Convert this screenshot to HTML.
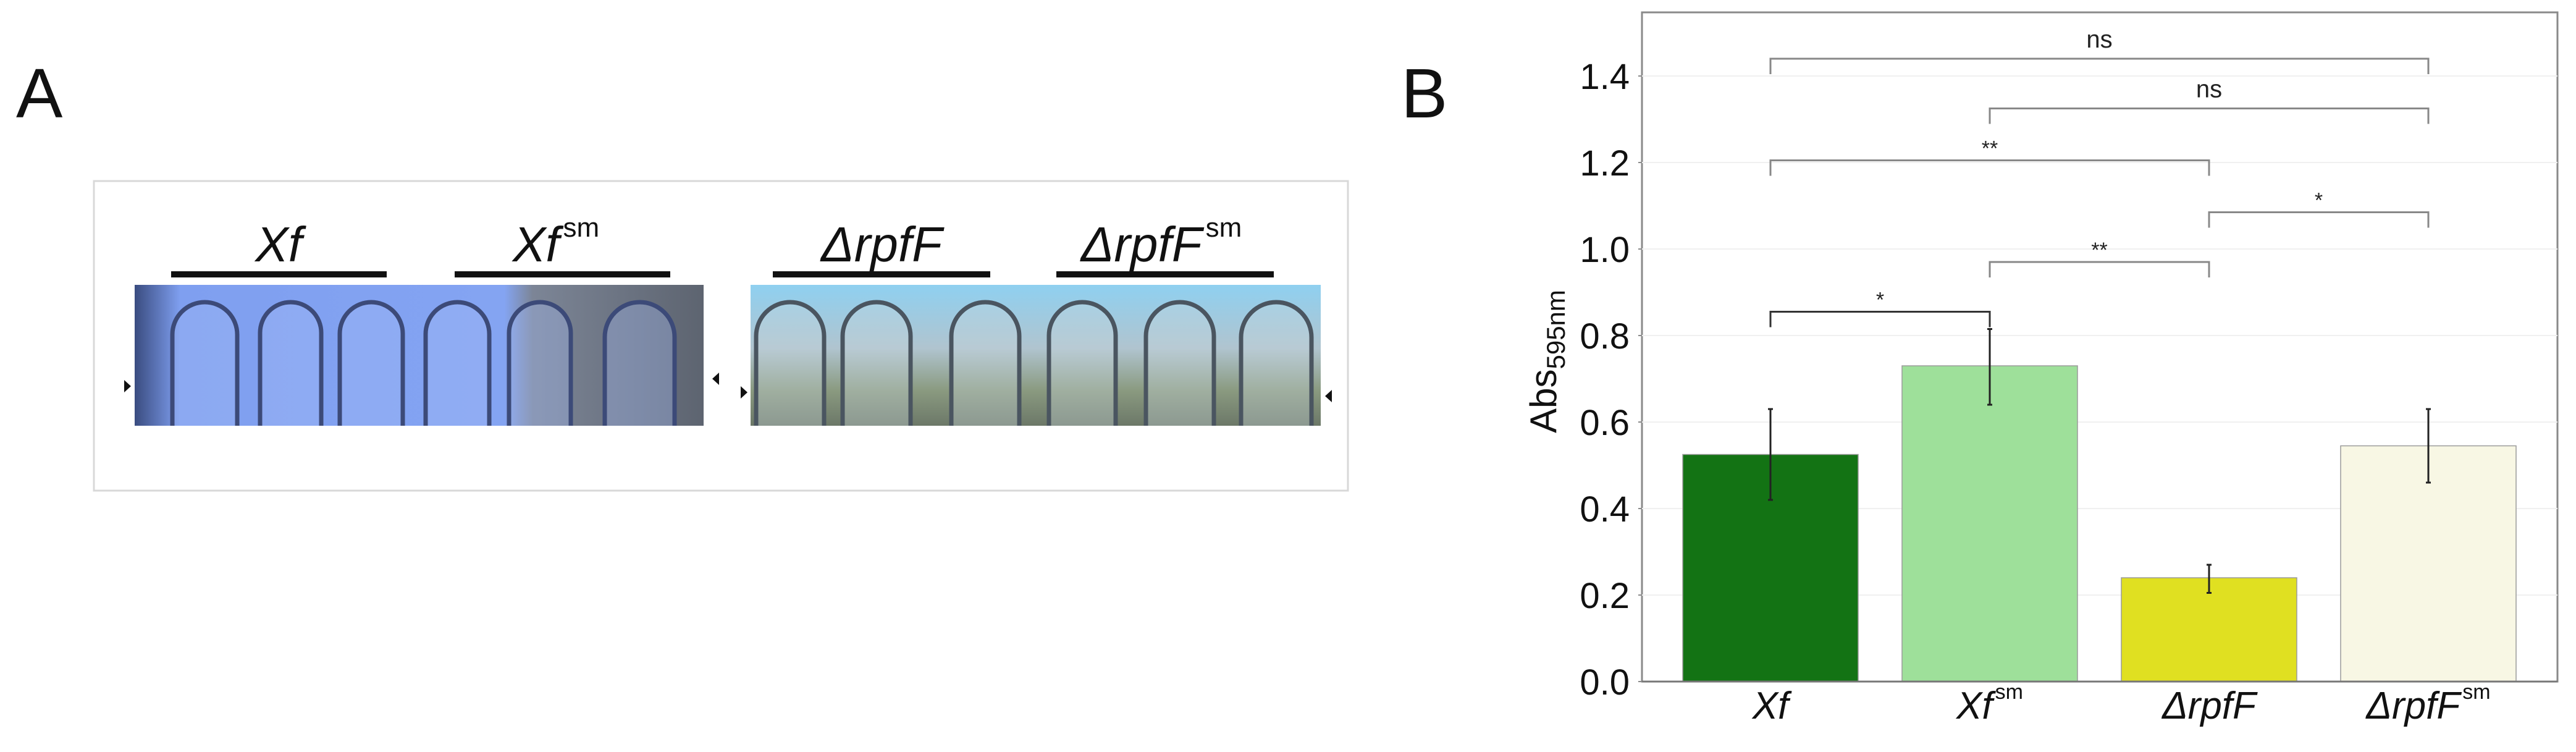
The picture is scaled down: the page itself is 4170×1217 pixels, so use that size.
<!DOCTYPE html>
<html><head><meta charset="utf-8"><style>
body{margin:0;background:#fff;}
svg{display:block;font-family:"Liberation Sans",sans-serif;}
</style></head><body>
<svg id="fig" width="4170" height="1217" viewBox="0 0 4170 1217" xmlns="http://www.w3.org/2000/svg">
<defs>
<linearGradient id="p1" x1="0" x2="1" y1="0" y2="0">
<stop offset="0" stop-color="#3a4c80"/><stop offset="0.08" stop-color="#7f9ff0"/><stop offset="0.65" stop-color="#84a4f2"/><stop offset="0.7" stop-color="#7c8596"/><stop offset="1" stop-color="#5d6470"/>
</linearGradient>
<linearGradient id="p2" x1="0" x2="0" y1="0" y2="1">
<stop offset="0" stop-color="#8fd0f0"/><stop offset="0.45" stop-color="#b0c4cf"/><stop offset="0.75" stop-color="#8a9a80"/><stop offset="1" stop-color="#6c7868"/>
</linearGradient>
</defs>
<text x="26" y="190" font-size="113" fill="#111">A</text>
<text x="2268" y="190" font-size="113" fill="#111">B</text>
<rect x="152" y="293" width="2030" height="501" fill="#fff" stroke="#d8d8d8" stroke-width="3"/>
<g font-style="italic" font-size="80" fill="#111" text-anchor="middle">
<text x="451" y="423">Xf</text>
<text x="900" y="423">Xf<tspan font-style="normal" font-size="44" dy="-40" dx="6">sm</tspan></text>
<text x="1427" y="423">ΔrpfF</text>
<text x="1880" y="423">ΔrpfF<tspan font-style="normal" font-size="44" dy="-40" dx="6">sm</tspan></text>
</g>
<g fill="#111">
<rect x="277" y="439" width="349" height="10"/><rect x="736" y="439" width="349" height="10"/>
<rect x="1251" y="439" width="352" height="10"/><rect x="1710" y="439" width="352" height="10"/>
</g>
<rect x="218" y="461" width="921" height="228" fill="url(#p1)"/>
<rect x="1215" y="461" width="923" height="228" fill="url(#p2)"/>
<g id="tubes" fill="none" stroke-width="7"></g>
<g fill="#111">
<polygon points="201,615 212,625 201,635"/><polygon points="1164,603 1153,613 1164,623"/>
<polygon points="1199,625 1210,635 1199,645"/><polygon points="2156,631 2145,641 2156,651"/>
</g>
<g id="chart"></g>
</svg>
<script>
const categories=["Xf","Xf","ΔrpfF","ΔrpfF"];
const superscripts=["","sm","","sm"];
const means=[0.525,0.73,0.24,0.545];
const errLow=[0.42,0.64,0.205,0.46];
const errHigh=[0.63,0.815,0.27,0.63];
const barColors=["#137314","#9ee09a","#e0e021","#f8f7e4"];
const yTicks=[0,0.2,0.4,0.6,0.8,1.0,1.2,1.4];
const yTickLabels=["0.0","0.2","0.4","0.6","0.8","1.0","1.2","1.4"];
const brFrom=[0,1,0,2,1,0];
const brTo=[3,3,2,3,2,1];
const brLevel=[1.44,1.325,1.205,1.085,0.97,0.855];
const brText=["ns","ns","**","*","**","*"];

const NS="http://www.w3.org/2000/svg";
function mk(t,a,p){const e=document.createElementNS(NS,t);for(const k in a)e.setAttribute(k,a[k]);p.appendChild(e);return e;}
const tubesG=document.getElementById('tubes');
const tubeX=[[279,384],[421,520],[550,652],[689,792],[824,924],[979,1092],[1224,1334],[1364,1474],[1540,1650],[1698,1806],[1855,1965],[2009,2123]];
tubeX.forEach((t,i)=>{const w=t[1]-t[0],r=w/2;
 const p=mk('path',{d:`M${t[0]},689 L${t[0]},${489+r} A${r},${r} 0 0 1 ${t[1]},${489+r} L${t[1]},689`,stroke:i<6?'#3c4a78':'#4a5560',fill:i<6?'#a6bdf6':'#c9d6dc','fill-opacity':0.35},tubesG);
 
 });

const g=document.getElementById('chart');
const L=2658,R=4140,T=20,B=1103,ymax=1.4,ypx=980;
const y=v=>B-v/ymax*ypx;
const pitch=355,x0=2866;
const x=i=>x0+i*pitch;
const bw=284;
mk('rect',{x:L,y:T,width:R-L,height:B-T,fill:'#fff',stroke:'#8a8a8a','stroke-width':3},g);
yTicks.forEach((v,i)=>{
 if(v>0)mk('line',{x1:L,x2:R,y1:y(v),y2:y(v),stroke:'#f0f0f0','stroke-width':2},g);
 mk('line',{x1:L-6,x2:L,y1:y(v),y2:y(v),stroke:'#8a8a8a','stroke-width':2},g);
 const t=mk('text',{x:2638,y:y(v)+21,'font-size':58,'text-anchor':'end',fill:'#111'},g);
 t.textContent=yTickLabels[i];
 
 
});
means.forEach((m,i)=>{
 const r=mk('rect',{x:x(i)-bw/2,y:y(m),width:bw,height:B-y(m),fill:barColors[i],stroke:'#9a9a9a','stroke-width':1.5},g);
 
 
 const e=mk('g',{stroke:'#222','stroke-width':3},g);
 
 
 mk('line',{x1:x(i),x2:x(i),y1:y(errLow[i]),y2:y(errHigh[i])},e);
 mk('line',{x1:x(i)-4,x2:x(i)+4,y1:y(errLow[i]),y2:y(errLow[i])},e);
 mk('line',{x1:x(i)-4,x2:x(i)+4,y1:y(errHigh[i]),y2:y(errHigh[i])},e);
 const t=mk('text',{x:x(i),y:1163,'font-size':62,'font-style':'italic','text-anchor':'middle',fill:'#111'},g);
 t.textContent=categories[i];
 if(superscripts[i]){const s=mk('tspan',{'font-style':'normal','font-size':34,dy:-32,dx:4},t);s.textContent=superscripts[i];}
 
 
});
mk('line',{x1:L,x2:R,y1:B,y2:B,stroke:'#777','stroke-width':3},g);
brFrom.forEach((a,k)=>{
 const b=brTo[k],yy=y(brLevel[k]);
 const p=mk('path',{d:`M${x(a)},${yy+25} V${yy} H${x(b)} V${yy+25}`,fill:'none',stroke:k==5?'#333':'#888','stroke-width':3},g);
 
 
 const t=mk('text',{x:(x(a)+x(b))/2,y:yy-(brText[k]=='ns'?18:8),'font-size':brText[k]=='ns'?40:34,'text-anchor':'middle',fill:'#222'},g);
 t.textContent=brText[k];
 
 
});
const yl=mk('text',{x:0,y:0,'font-size':60,'text-anchor':'middle',fill:'#111',transform:'translate(2519,585) rotate(-90)'},g);
yl.textContent='Abs';
const sub=mk('tspan',{'font-size':42,dy:14},yl);sub.textContent='595nm';


</script>
</body></html>
